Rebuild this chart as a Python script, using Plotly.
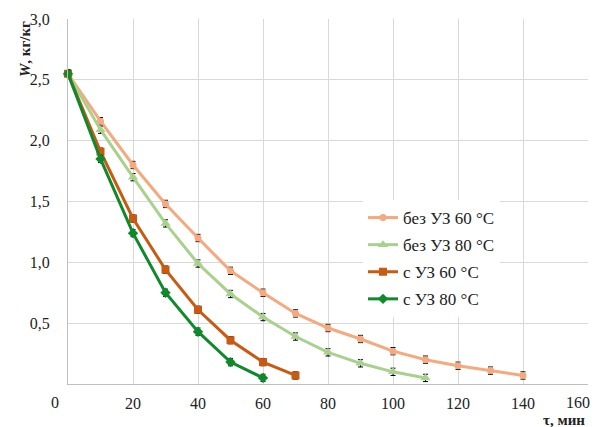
import plotly.graph_objects as go

# Data
t_bez60 = [0, 10, 20, 30, 40, 50, 60, 70, 80, 90, 100, 110, 120, 130, 140]
w_bez60 = [2.55, 2.16, 1.80, 1.48, 1.20, 0.93, 0.75, 0.58, 0.46, 0.37, 0.27, 0.20, 0.15, 0.11, 0.07]
t_bez80 = [0, 10, 20, 30, 40, 50, 60, 70, 80, 90, 100, 110]
w_bez80 = [2.55, 2.09, 1.70, 1.32, 0.99, 0.74, 0.55, 0.39, 0.26, 0.17, 0.10, 0.05]
t_s60 = [0, 10, 20, 30, 40, 50, 60, 70]
w_s60 = [2.55, 1.91, 1.36, 0.94, 0.61, 0.36, 0.18, 0.07]
t_s80 = [0, 10, 20, 30, 40, 50, 60]
w_s80 = [2.55, 1.85, 1.24, 0.75, 0.43, 0.18, 0.05]
err = 0.03

names = ["без УЗ 60 °C", "без УЗ 80 °C", "с УЗ 60 °C", "с УЗ 80 °C"]
colors = ["#F4A97E", "#A9D18E", "#C95A12", "#0E8A2C"]
symbols = ["circle", "triangle-up", "square", "diamond"]
msizes = [7, 9, 8, 8]
series = [(t_bez60, w_bez60), (t_bez80, w_bez80), (t_s60, w_s60), (t_s80, w_s80)]

x_ticks = [20, 40, 60, 80, 100, 120, 140]
x_last = 160
y_ticks = [0.5, 1.0, 1.5, 2.0, 2.5, 3.0]
y_labels = ["0,5", "1,0", "1,5", "2,0", "2,5", "3,0"]

font = "Liberation Serif"

# page has an 8px body margin; figure is sized to fit inside it
W, H = 592, 419
L, R, T, B = 60, 12, 11, 43
pw, ph = W - L - R, H - T - B

fig = go.Figure()
for i, (t, w) in enumerate(series):
    fig.add_trace(go.Scatter(
        x=t, y=w, name=names[i], mode="lines+markers",
        line=dict(color=colors[i], width=3),
        marker=dict(symbol=symbols[i], size=msizes[i], color=colors[i]),
        error_y=dict(type="constant", value=err, color="black", thickness=1, width=2.5),
        legendgroup=str(i), cliponaxis=False,
    ))

fig.update_layout(
    width=W, height=H,
    margin=dict(l=L, r=R, t=T, b=B, autoexpand=False),
    paper_bgcolor="white", plot_bgcolor="white",
    font=dict(family=font, size=16, color="#222222"),
    showlegend=True,
    legend=dict(x=(363 - 8 - L) / pw, y=(384 - 200) / ph, xanchor="left", yanchor="top",
                bgcolor="white", font=dict(size=17, family=font),
                traceorder="grouped", tracegroupgap=2, itemwidth=30),
    xaxis=dict(range=[0, 160], tickvals=x_ticks + [x_last],
               ticktext=[str(v) for v in x_ticks] + [""],
               showgrid=True, gridcolor="#D9D9D9", gridwidth=1,
               showline=True, linecolor="#BFBFBF", linewidth=1,
               zeroline=False, ticks="", ticklabelstandoff=5, automargin=False,
               tickfont=dict(size=16, family=font)),
    yaxis=dict(range=[0, 3.0], tickvals=y_ticks, ticktext=y_labels,
               showgrid=True, gridcolor="#D9D9D9", gridwidth=1,
               showline=True, linecolor="#BFBFBF", linewidth=1,
               zeroline=False, ticks="", ticklabelstandoff=14, automargin=False,
               tickfont=dict(size=16, family=font)),
    annotations=[
        dict(text="0", xref="paper", yref="paper", x=-13 / pw, y=-19 / ph,
             xanchor="center", yanchor="middle", showarrow=False,
             font=dict(size=16, family=font)),
        dict(text=str(x_last), xref="paper", yref="paper", x=(584 - L) / pw, y=-19 / ph,
             xanchor="right", yanchor="middle", showarrow=False,
             font=dict(size=16, family=font)),
        dict(text="<b><i>W</i>, кг/кг</b>", xref="paper", yref="paper",
             x=-43 / pw, y=1.0, xanchor="center", yanchor="top", textangle=-90,
             showarrow=False, font=dict(size=15, family=font)),
        dict(text="<b>τ, мин</b>", xref="paper", yref="paper",
             x=(587 - 8 - L) / pw, y=-36 / ph, xanchor="right", yanchor="middle",
             showarrow=False, font=dict(size=15, family=font)),
    ],
)

fig.write_html("out.html")
